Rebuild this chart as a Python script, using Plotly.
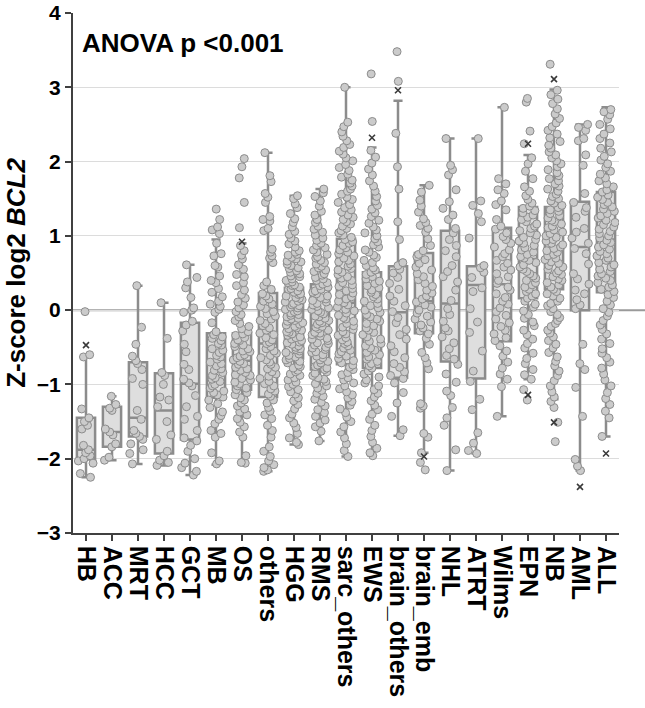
import plotly.graph_objects as go

# Tumour entities in display order
categories = ["HB", "ACC", "MRT", "HCC", "GCT", "MB", "OS", "others", "HGG", "RMS",
              "sarc_others", "EWS", "brain_others", "brain_emb", "NHL", "ATRT",
              "Wilms", "EPN", "NB", "AML", "ALL"]

# Box summary per entity (Z-score log2 BCL2)
box_q1 = [-2.01, -1.84, -1.70, -1.93, -1.74, -1.18, -1.07, -1.17, -0.65, -0.80, -0.73,
          -0.78, -0.91, -0.31, -0.69, -0.92, -0.42, 0.16, 0.28, 0.00, 0.24]
box_median = [-1.88, -1.64, -1.45, -1.35, -0.99, -0.70, -0.68, -0.45, -0.18, -0.25, 0.10,
              -0.10, -0.03, 0.12, 0.09, 0.34, 0.35, 0.69, 0.82, 0.85, 0.95]
box_q3 = [-1.45, -1.30, -0.70, -0.85, -0.17, -0.31, -0.31, 0.23, 0.30, 0.35, 0.96,
          0.51, 0.59, 0.77, 1.07, 0.59, 1.11, 1.39, 1.39, 1.46, 1.59]
box_low = [-2.25, -2.02, -2.07, -2.09, -2.22, -2.08, -2.05, -2.17, -1.81, -1.76, -1.97,
           -1.96, -1.69, -1.92, -2.16, -1.93, -1.43, -0.93, -1.20, -2.16, -1.70]
box_high = [-0.63, -1.16, 0.33, 0.10, 0.61, 0.95, 0.90, 2.12, 1.54, 1.63, 3.00,
            2.19, 2.82, 1.68, 2.31, 2.31, 2.73, 2.09, 2.97, 2.50, 2.73]

# Extreme-value markers
extreme_cat = ["HB", "OS", "EWS", "brain_others", "brain_emb", "EPN", "EPN", "NB", "NB", "AML", "ALL"]
extreme_val = [-0.47, 0.92, 2.32, 2.96, -1.97, 2.24, -1.14, 3.11, -1.51, -2.38, -1.93]

# Individual samples per entity
HB = [-0.02, -0.60, -0.63, -1.33, -1.45, -1.50, -1.55, -1.60, -1.82, -1.88, -1.92, -1.96,
      -2.00, -2.03, -2.06, -2.20, -2.25]
ACC = [-1.16, -1.27, -1.32, -1.35, -1.60, -1.64, -1.68, -1.80, -1.84, -1.98, -2.02]
MRT = [0.33, -0.23, -0.46, -0.62, -0.68, -0.72, -0.80, -0.92, -1.00, -1.35, -1.47, -1.62,
       -1.66, -1.70, -1.74, -1.80, -1.88, -1.93, -2.07]
HCC = [0.10, -0.38, -0.84, -0.88, -1.00, -1.17, -1.21, -1.30, -1.50, -1.68, -1.74, -1.90,
       -1.96, -2.02, -2.05, -2.09]
GCT = [0.61, 0.44, 0.38, 0.30, 0.17, 0.03, 0.00, -0.03, -0.15, -0.20, -0.28, -0.46, -0.56,
       -0.73, -0.80, -0.93, -0.98, -1.02, -1.15, -1.30, -1.43, -1.47, -1.62, -1.72, -1.76,
       -1.82, -1.90, -2.00, -2.06, -2.12, -2.17, -2.22]
MB = [1.36, 1.22, 1.12, 1.08, 1.03, 0.90, 0.76, 0.73, 0.60, 0.58, 0.46, 0.40, 0.37, 0.29,
      0.24, 0.18, 0.12, 0.08, 0.05, 0.01, -0.03, -0.17, -0.29, -0.33, -0.36, -0.38, -0.41,
      -0.45, -0.47, -0.52, -0.54, -0.57, -0.61, -0.63, -0.66, -0.70, -0.72, -0.75, -0.79,
      -0.81, -0.84, -0.88, -0.91, -0.93, -0.96, -1.00, -1.02, -1.05, -1.09, -1.11, -1.14,
      -1.17, -1.21, -1.26, -1.31, -1.37, -1.42, -1.47, -1.53, -1.62, -1.66, -1.71, -1.92,
      -2.03, -2.07]
OS = [2.04, 1.93, 1.78, 1.45, 1.11, 0.87, 0.80, 0.74, 0.69, 0.61, 0.55, 0.48, 0.45, 0.37,
      0.33, 0.27, 0.21, 0.16, 0.11, 0.07, 0.03, -0.02, -0.06, -0.09, -0.14, -0.18, -0.22,
      -0.25, -0.29, -0.32, -0.34, -0.37, -0.40, -0.41, -0.45, -0.47, -0.49, -0.52, -0.55,
      -0.56, -0.60, -0.62, -0.64, -0.67, -0.69, -0.72, -0.73, -0.77, -0.79, -0.81, -0.84,
      -0.87, -0.88, -0.92, -0.94, -0.97, -0.99, -1.02, -1.05, -1.07, -1.11, -1.14, -1.18,
      -1.21, -1.25, -1.29, -1.33, -1.37, -1.41, -1.46, -1.51, -1.57, -1.64, -1.71, -1.96,
      -2.05, -2.06]
others = [2.12, 1.81, 1.73, 1.57, 1.52, 1.45, 1.26, 1.22, 1.20, 1.10, 1.07, 0.82, 0.78,
          0.73, 0.70, 0.64, 0.38, 0.33, 0.28, 0.22, 0.19, 0.15, 0.12, 0.08, 0.05, 0.02,
          -0.02, -0.05, -0.08, -0.12, -0.14, -0.18, -0.21, -0.24, -0.27, -0.31, -0.33,
          -0.37, -0.40, -0.43, -0.45, -0.49, -0.52, -0.55, -0.58, -0.61, -0.64, -0.67,
          -0.70, -0.73, -0.77, -0.79, -0.83, -0.86, -0.89, -0.92, -0.96, -0.99, -1.02,
          -1.06, -1.09, -1.13, -1.16, -1.21, -1.25, -1.31, -1.36, -1.41, -1.46, -1.55,
          -1.62, -1.71, -1.84, -1.90, -1.97, -2.03, -2.08, -2.12, -2.15, -2.17]
HGG = [1.54, 1.50, 1.43, 1.38, 1.30, 1.23, 1.18, 1.12, 1.06, 1.02, 0.97, 0.93, 0.89, 0.85,
       0.80, 0.78, 0.75, 0.74, 0.71, 0.69, 0.66, 0.65, 0.62, 0.60, 0.57, 0.56, 0.53, 0.51,
       0.49, 0.46, 0.45, 0.42, 0.40, 0.38, 0.37, 0.34, 0.33, 0.31, 0.29, 0.28, 0.26, 0.24,
       0.22, 0.21, 0.19, 0.17, 0.16, 0.14, 0.12, 0.11, 0.09, 0.07, 0.06, 0.04, 0.03, 0.01,
       -0.01, -0.02, -0.04, -0.06, -0.07, -0.09, -0.11, -0.12, -0.14, -0.15, -0.17, -0.19,
       -0.20, -0.22, -0.24, -0.25, -0.27, -0.29, -0.30, -0.32, -0.34, -0.36, -0.37, -0.39,
       -0.41, -0.43, -0.44, -0.46, -0.48, -0.50, -0.52, -0.53, -0.55, -0.57, -0.59, -0.61,
       -0.63, -0.65, -0.67, -0.69, -0.71, -0.74, -0.76, -0.78, -0.81, -0.83, -0.86, -0.88,
       -0.91, -0.94, -0.97, -1.00, -1.03, -1.07, -1.10, -1.13, -1.18, -1.22, -1.27, -1.33,
       -1.40, -1.45, -1.52, -1.58, -1.66, -1.72, -1.78, -1.81]
RMS = [1.63, 1.58, 1.53, 1.47, 1.40, 1.33, 1.28, 1.22, 1.18, 1.13, 1.09, 1.05, 1.01, 0.97,
       0.94, 0.90, 0.87, 0.84, 0.81, 0.78, 0.75, 0.72, 0.70, 0.67, 0.64, 0.62, 0.59, 0.57,
       0.54, 0.52, 0.49, 0.47, 0.44, 0.42, 0.40, 0.37, 0.35, 0.33, 0.31, 0.28, 0.26, 0.24,
       0.22, 0.19, 0.17, 0.15, 0.13, 0.11, 0.09, 0.07, 0.05, 0.03, 0.01, -0.01, -0.03,
       -0.05, -0.08, -0.09, -0.11, -0.14, -0.15, -0.17, -0.19, -0.22, -0.23, -0.25, -0.27,
       -0.30, -0.31, -0.33, -0.35, -0.38, -0.39, -0.41, -0.44, -0.45, -0.47, -0.50, -0.51,
       -0.53, -0.56, -0.57, -0.60, -0.62, -0.64, -0.67, -0.69, -0.71, -0.74, -0.76, -0.78,
       -0.80, -0.83, -0.85, -0.88, -0.91, -0.93, -0.96, -0.99, -1.02, -1.05, -1.08, -1.12,
       -1.16, -1.20, -1.24, -1.29, -1.34, -1.38, -1.43, -1.48, -1.52, -1.57, -1.63, -1.76]
sarc_others = [3.00, 2.53, 2.47, 2.40, 2.34, 2.28, 2.23, 2.19, 2.14, 2.10, 2.05, 2.01,
               1.96, 1.92, 1.88, 1.83, 1.79, 1.75, 1.71, 1.67, 1.63, 1.60, 1.56, 1.52,
               1.49, 1.45, 1.42, 1.38, 1.35, 1.32, 1.28, 1.25, 1.22, 1.19, 1.16, 1.13,
               1.10, 1.07, 1.04, 1.01, 0.98, 0.95, 0.92, 0.90, 0.87, 0.84, 0.81, 0.78,
               0.76, 0.73, 0.70, 0.67, 0.65, 0.62, 0.59, 0.56, 0.54, 0.51, 0.48, 0.45,
               0.43, 0.40, 0.37, 0.34, 0.32, 0.29, 0.26, 0.23, 0.21, 0.18, 0.15, 0.12,
               0.10, 0.07, 0.04, 0.01, -0.01, -0.04, -0.07, -0.10, -0.12, -0.15, -0.18,
               -0.21, -0.23, -0.26, -0.29, -0.32, -0.34, -0.37, -0.40, -0.43, -0.45, -0.48,
               -0.51, -0.54, -0.56, -0.59, -0.62, -0.65, -0.68, -0.71, -0.74, -0.77, -0.80,
               -0.84, -0.87, -0.91, -0.94, -0.98, -1.02, -1.06, -1.10, -1.14, -1.18, -1.23,
               -1.28, -1.33, -1.38, -1.44, -1.50, -1.57, -1.64, -1.72, -1.80, -1.89, -1.97]
EWS = [3.18, 2.54, 2.15, 2.06, 1.98, 1.90, 1.82, 1.74, 1.67, 1.60, 1.53, 1.47, 1.41, 1.36,
       1.31, 1.26, 1.21, 1.17, 1.12, 1.08, 1.04, 1.00, 0.96, 0.92, 0.88, 0.85, 0.81, 0.78,
       0.74, 0.71, 0.67, 0.64, 0.60, 0.57, 0.54, 0.51, 0.48, 0.45, 0.42, 0.39, 0.36, 0.33,
       0.30, 0.27, 0.24, 0.21, 0.18, 0.15, 0.12, 0.09, 0.06, 0.03, 0.00, -0.03, -0.06,
       -0.09, -0.12, -0.15, -0.18, -0.21, -0.24, -0.27, -0.30, -0.33, -0.36, -0.39, -0.42,
       -0.45, -0.48, -0.51, -0.54, -0.57, -0.60, -0.63, -0.66, -0.69, -0.72, -0.75, -0.78,
       -0.82, -0.86, -0.90, -0.94, -0.98, -1.02, -1.07, -1.12, -1.17, -1.22, -1.28, -1.34,
       -1.40, -1.47, -1.55, -1.62, -1.70, -1.78, -1.86, -1.92, -1.96]
brain_others = [3.48, 3.08, 2.38, 1.93, 1.63, 1.19, 0.95, 0.64, 0.60, 0.55, 0.50, 0.44,
                0.36, 0.28, 0.19, 0.12, 0.06, -0.02, -0.10, -0.17, -0.26, -0.33, -0.39,
                -0.48, -0.56, -0.64, -0.72, -0.77, -0.83, -0.88, -0.92, -0.98, -1.11,
                -1.25, -1.43, -1.61, -1.69]
brain_emb = [1.68, 1.59, 1.48, 1.40, 1.32, 1.23, 1.18, 1.14, 1.10, 1.05, 0.96, 0.87, 0.80,
             0.75, 0.72, 0.68, 0.63, 0.58, 0.54, 0.49, 0.45, 0.41, 0.36, 0.32, 0.27, 0.23,
             0.19, 0.15, 0.11, 0.07, 0.04, 0.00, -0.04, -0.08, -0.12, -0.16, -0.20, -0.24,
             -0.28, -0.32, -0.38, -0.46, -0.57, -0.64, -0.71, -0.79, -1.26, -1.29, -1.32,
             -1.66, -1.71, -1.92, -2.05, -2.15]
NHL = [2.31, 1.95, 1.89, 1.82, 1.62, 1.46, 1.37, 1.28, 1.22, 1.10, 1.04, 0.95, 0.87, 0.80,
       0.72, 0.60, 0.52, 0.45, 0.38, 0.27, 0.13, 0.02, -0.06, -0.15, -0.24, -0.28, -0.36,
       -0.44, -0.52, -0.61, -0.66, -0.73, -0.86, -0.97, -1.09, -1.15, -1.31, -1.45, -1.55,
       -1.88, -2.16]
ATRT = [2.31, 1.47, 1.41, 1.30, 1.19, 0.97, 0.60, 0.57, 0.51, 0.44, 0.30, 0.25, 0.02,
        -0.16, -0.30, -0.55, -0.82, -0.96, -1.20, -1.34, -1.65, -1.79, -1.89, -1.93]
Wilms = [2.73, 1.77, 1.70, 1.62, 1.57, 1.47, 1.42, 1.35, 1.22, 1.13, 1.09, 1.04, 0.99,
         0.95, 0.90, 0.85, 0.81, 0.76, 0.72, 0.67, 0.63, 0.58, 0.54, 0.49, 0.45, 0.40,
         0.36, 0.31, 0.27, 0.22, 0.17, 0.12, 0.08, 0.03, -0.02, -0.07, -0.12, -0.17,
         -0.22, -0.27, -0.32, -0.37, -0.41, -0.48, -0.55, -0.62, -0.70, -0.78, -0.86,
         -0.93, -1.03, -1.43]
EPN = [2.85, 2.80, 2.41, 2.24, 2.05, 1.97, 1.87, 1.77, 1.66, 1.60, 1.54, 1.49, 1.44, 1.40,
       1.37, 1.34, 1.31, 1.28, 1.25, 1.22, 1.19, 1.16, 1.13, 1.10, 1.07, 1.04, 1.01, 0.98,
       0.95, 0.93, 0.90, 0.87, 0.84, 0.81, 0.78, 0.75, 0.72, 0.70, 0.67, 0.64, 0.61, 0.58,
       0.55, 0.52, 0.49, 0.46, 0.43, 0.40, 0.37, 0.34, 0.31, 0.28, 0.25, 0.22, 0.19, 0.16,
       0.12, 0.08, 0.04, -0.01, -0.06, -0.11, -0.16, -0.21, -0.27, -0.33, -0.39, -0.45,
       -0.51, -0.58, -0.65, -0.72, -0.80, -0.87, -0.93, -1.07, -1.21]
NB = [3.31, 2.96, 2.90, 2.84, 2.78, 2.71, 2.64, 2.58, 2.52, 2.47, 2.42, 2.37, 2.32, 2.27,
      2.22, 2.18, 2.13, 2.09, 2.05, 2.01, 1.97, 1.93, 1.89, 1.85, 1.81, 1.77, 1.74, 1.70,
      1.67, 1.63, 1.60, 1.56, 1.53, 1.50, 1.47, 1.44, 1.41, 1.38, 1.35, 1.33, 1.30, 1.27,
      1.24, 1.21, 1.19, 1.16, 1.13, 1.11, 1.08, 1.05, 1.03, 1.00, 0.98, 0.95, 0.93, 0.90,
      0.88, 0.85, 0.83, 0.80, 0.78, 0.75, 0.73, 0.70, 0.68, 0.65, 0.63, 0.60, 0.58, 0.55,
      0.53, 0.50, 0.48, 0.45, 0.42, 0.40, 0.37, 0.34, 0.31, 0.28, 0.25, 0.22, 0.19, 0.16,
      0.12, 0.09, 0.06, 0.02, -0.02, -0.06, -0.10, -0.14, -0.18, -0.22, -0.27, -0.31,
      -0.36, -0.41, -0.46, -0.51, -0.57, -0.63, -0.69, -0.75, -0.82, -0.88, -0.95, -1.02,
      -1.10, -1.17, -1.23, -1.31, -1.51, -1.77]
AML = [2.50, 2.46, 2.42, 2.31, 2.28, 2.09, 1.95, 1.57, 1.45, 1.38, 1.33, 1.25, 1.10, 1.05,
       0.97, 0.90, 0.83, 0.76, 0.62, 0.49, 0.42, 0.35, 0.27, 0.22, 0.14, 0.07, 0.02, -0.46,
       -0.72, -0.80, -1.04, -1.43, -2.01, -2.10, -2.16]
ALL = [2.70, 2.67, 2.63, 2.57, 2.50, 2.44, 2.37, 2.31, 2.25, 2.18, 2.13, 2.07, 2.02, 1.97,
       1.92, 1.87, 1.83, 1.78, 1.74, 1.70, 1.66, 1.62, 1.59, 1.55, 1.52, 1.49, 1.45, 1.42,
       1.39, 1.36, 1.33, 1.30, 1.27, 1.24, 1.21, 1.18, 1.15, 1.12, 1.09, 1.06, 1.03, 1.00,
       0.97, 0.94, 0.91, 0.88, 0.85, 0.82, 0.79, 0.76, 0.73, 0.70, 0.67, 0.64, 0.61, 0.58,
       0.55, 0.52, 0.49, 0.46, 0.43, 0.40, 0.37, 0.34, 0.31, 0.28, 0.25, 0.21, 0.17, 0.12,
       0.07, 0.02, -0.03, -0.08, -0.14, -0.20, -0.26, -0.32, -0.39, -0.45, -0.52, -0.58,
       -0.64, -0.70, -0.78, -0.86, -0.94, -1.02, -1.11, -1.19, -1.27, -1.36, -1.45, -1.70]

samples = [HB, ACC, MRT, HCC, GCT, MB, OS, others, HGG, RMS, sarc_others, EWS,
           brain_others, brain_emb, NHL, ATRT, Wilms, EPN, NB, AML, ALL]

FONT = "Liberation Sans, Arial, sans-serif"
BOX_LINE = "#8c8c8c"
BOX_FILL = "#dedede"
DOT_FILL = "#cbcbcb"
DOT_EDGE = "#8c8c8c"
BOX_WIDTH = 0.7

fig = go.Figure()

# Boxes and whiskers from the summary statistics
fig.add_trace(go.Box(
    x=categories, q1=box_q1, median=box_median, q3=box_q3,
    lowerfence=box_low, upperfence=box_high,
    boxpoints=False, fillcolor=BOX_FILL, width=BOX_WIDTH,
    line=dict(color=BOX_LINE, width=2.5), whiskerwidth=0.5,
    hoverinfo="skip", showlegend=False,
))

# Extreme-value crosses (drawn beneath the sample dots)
fig.add_trace(go.Scatter(
    x=extreme_cat, y=extreme_val, mode="markers",
    marker=dict(symbol="x-thin", size=6, line=dict(color="#3a3a3a", width=1.6)),
    hoverinfo="skip", showlegend=False,
))

# All samples as jittered dots
pts_x, pts_y = [], []
for cat, vals in zip(categories, samples):
    pts_x.extend([cat] * len(vals))
    pts_y.extend(vals)

fig.add_trace(go.Box(
    x=pts_x, y=pts_y, boxpoints="all", jitter=1.0, pointpos=0, width=BOX_WIDTH,
    fillcolor="rgba(0,0,0,0)", line=dict(color="rgba(0,0,0,0)", width=0),
    whiskerwidth=0,
    marker=dict(size=8, color=DOT_FILL, line=dict(color=DOT_EDGE, width=1)),
    hoverinfo="skip", showlegend=False,
))

# Zero reference line running past the right edge of the plot
fig.add_shape(type="line", xref="paper", yref="y", x0=0, x1=1.05, y0=0, y1=0,
              line=dict(color="#9a9a9a", width=2), layer="below")

fig.add_annotation(
    text="ANOVA p &lt;0.001", xref="paper", yref="y", x=0.013, y=3.6,
    xanchor="left", yanchor="middle", showarrow=False,
    font=dict(family=FONT, size=26, color="black", weight="bold"),
)

fig.update_layout(
    width=645, height=708,
    margin=dict(l=73, r=26, t=13, b=175, autoexpand=False),
    paper_bgcolor="white", plot_bgcolor="white",
    boxmode="overlay",
    font=dict(family=FONT, color="black"),
    showlegend=False,
)

fig.update_xaxes(
    type="category", categoryorder="array", categoryarray=categories,
    tickmode="array", tickvals=categories, ticktext=categories,
    range=[-0.5, 20.5], showgrid=False, zeroline=False, automargin=False,
    showline=True, linecolor="#404040", linewidth=1.5,
    ticks="outside", ticklen=6, tickwidth=1.5, tickcolor="#404040",
    tickangle=90, tickfont=dict(family=FONT, size=25, color="black", weight="bold"),
)

fig.update_yaxes(
    range=[-3, 4], dtick=1, tick0=0, automargin=False,
    showgrid=True, gridcolor="#dcdcdc", gridwidth=1, zeroline=False,
    showline=True, linecolor="#404040", linewidth=2,
    ticks="outside", ticklen=6, tickwidth=1.5, tickcolor="#404040",
    tickfont=dict(family=FONT, size=21, color="black", weight="bold"),
    title=dict(text="Z-score log2 <i>BCL2</i>", standoff=4,
               font=dict(family=FONT, size=26, color="black", weight="bold")),
)

fig.write_html("out.html")
